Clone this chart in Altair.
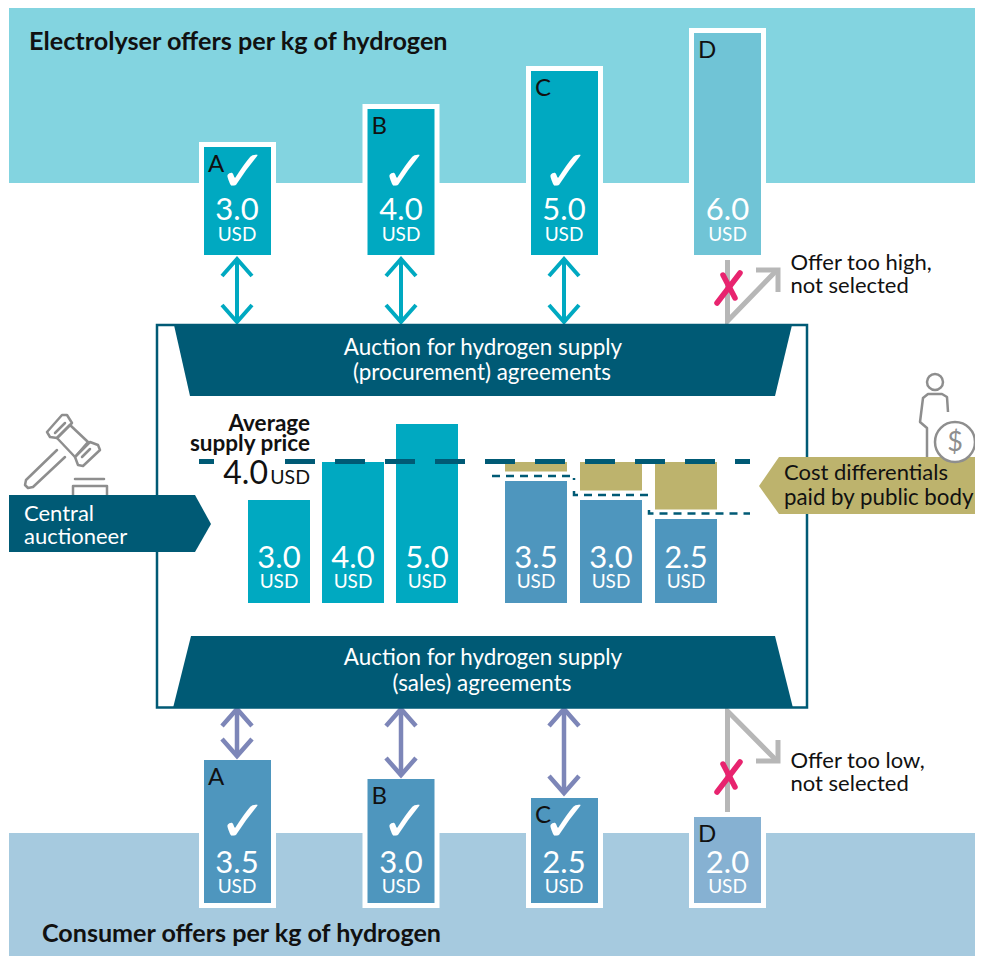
import altair as alt
import pandas as pd

# ---------- values ----------
SUPPLIERS = ["A", "B", "C", "D"]
SUPPLY_PRICES = [3.0, 4.0, 5.0, 6.0]
CONSUMER_PRICES = [3.5, 3.0, 2.5, 2.0]
SELECTED_SUPPLY = [3.0, 4.0, 5.0]
SELECTED_DEMAND = [3.5, 3.0, 2.5]
AVERAGE_PRICE = 4.0
GAP = 0.25
CHECK = "\u2713"

TOP_TITLE = "Electrolyser offers per kg of hydrogen"
BOTTOM_TITLE = "Consumer offers per kg of hydrogen"
SUPPLY_AUCTION = ["Auction for hydrogen supply", "(procurement) agreements"]
SALES_AUCTION = ["Auction for hydrogen supply", "(sales) agreements"]
AUCTIONEER = ["Central", "auctioneer"]
DIFFERENTIAL = ["Cost differentials", "paid by public body"]
HIGH_NOTE = ["Offer too high,", "not selected"]
LOW_NOTE = ["Offer too low,", "not selected"]
AVERAGE_LABEL = ["Average", "supply price"]

# ---------- layout ----------
W, H = 967, 948
FONT = "Lato"
TEAL, TEAL_PALE = "#00a9c1", "#70c4d6"
BLUE, BLUE_PALE = "#4e96be", "#86b1d2"
NAVY, GOLD = "#005a75", "#bdb36d"
VIOLET, GREY, ICON, PINK = "#7d86b8", "#b7b7b7", "#8e8e8e", "#e8246f"
INK = "#111111"

CARD_X = [204, 367.5, 531, 694]
CARD_W = 67
CARD_MID = [237, 401, 564, 727.5]
CHECK_MID = [243, 405, 566]
MID_SUPPLY_X = [248, 322, 396]
MID_DEMAND_X = [505, 580, 655]
MID_W = 62

XS = alt.Scale(domain=[8, 8 + W], range=[0, W], nice=False, zero=False)
YS = alt.Scale(domain=[8, 8 + H], range=[0, H], nice=False, zero=False)


def price_scale(zero_px, px_per_usd=38):
    return alt.Scale(domain=[(zero_px - 8) / px_per_usd, (zero_px - 8 - H) / px_per_usd],
                     range=[0, H], nice=False, zero=False)


TOP_S, MID_S, BOT_S = price_scale(261), price_scale(614), price_scale(893)


def X(f="x"):
    return alt.X(f"{f}:Q", scale=XS, axis=None)


def Y(f="y", s=YS):
    return alt.Y(f"{f}:Q", scale=s, axis=None)


def box(rows, color, **kw):
    df = pd.DataFrame(rows, columns=["x", "x2", "y", "y2"])
    return alt.Chart(df).mark_rect(color=color, **kw).encode(
        x=X(), x2="x2:Q", y=Y(), y2="y2:Q")


def price_bars(xs, w, tops, bottoms, scale, color, **kw):
    df = pd.DataFrame({"x": xs, "x2": [a + w for a in xs], "y": tops, "y2": bottoms})
    return alt.Chart(df).mark_rect(color=color, **kw).encode(
        x=X(), x2="x2:Q", y=Y("y", scale), y2="y2:Q")


def poly(name, rows, color):
    df = pd.DataFrame(rows, columns=["y", "x", "x2"])
    df["g"] = name
    return alt.Chart(df).mark_area(orient="horizontal", color=color, opacity=1).encode(
        y=Y(), x=X(), x2="x2:Q", detail="g:N")


def path(lines, color, width, dash=None, cap="butt", join="miter"):
    rows = []
    for g, pts in enumerate(lines):
        for o, (x, y) in enumerate(pts):
            rows.append({"x": x, "y": y, "g": g, "o": o})
    kw = {"strokeDash": dash} if dash else {}
    return alt.Chart(pd.DataFrame(rows)).mark_line(
        color=color, strokeWidth=width, strokeCap=cap, strokeJoin=join, **kw
    ).encode(x=X(), y=Y(), detail="g:N", order="o:Q")


def text(rows, size, color=INK, align="center", weight="normal", font=FONT):
    df = pd.DataFrame(rows, columns=["x", "y", "t"])
    return alt.Chart(df).mark_text(
        fontSize=size, color=color, align=align, baseline="alphabetic",
        fontWeight=weight, font=font
    ).encode(x=X(), y=Y(), text="t:N")


def price_letters(xs, prices, scale, names, dy):
    df = pd.DataFrame({"x": xs, "y": prices, "t": names})
    return alt.Chart(df).mark_text(
        fontSize=24, color=INK, align="left", baseline="alphabetic", font=FONT, dy=dy
    ).encode(x=X(), y=Y("y", scale), text="t:N")


def dot(x, y, size, fill, stroke, width):
    df = pd.DataFrame({"x": [x], "y": [y]})
    return alt.Chart(df).mark_point(
        shape="circle", size=size, fill=fill, stroke=stroke, strokeWidth=width, opacity=1, filled=False
    ).encode(x=X(), y=Y())


def double_arrow(x, top, bottom, wing=15, rise=17):
    return [
        [(x, top), (x, bottom)],
        [(x - wing, top + rise), (x, top), (x + wing, top + rise)],
        [(x - wing, bottom - rise), (x, bottom), (x + wing, bottom - rise)],
    ]


layers = []
# bands
layers += [box([(9, 8 + W, 8, 183)], "#83d4e0"), box([(9, 8 + W, 833, 8 + H)], "#a6cadf")]

# offer cards
top_base = (261 - 255) / 38
bot_base = (893 - 903) / 38
card_cols_top = [TEAL, TEAL, TEAL, TEAL_PALE]
card_cols_bot = [BLUE, BLUE, BLUE, BLUE_PALE]
layers.append(price_bars(CARD_X, CARD_W, SUPPLY_PRICES, [top_base] * 4, TOP_S, "#ffffff",
                         stroke="#ffffff", strokeWidth=10))
layers.append(price_bars(CARD_X, CARD_W, CONSUMER_PRICES, [bot_base] * 4, BOT_S, "#ffffff",
                         stroke="#ffffff", strokeWidth=10))
for i in range(4):
    layers.append(price_bars([CARD_X[i]], CARD_W, [SUPPLY_PRICES[i]], [top_base], TOP_S, card_cols_top[i]))
    layers.append(price_bars([CARD_X[i]], CARD_W, [CONSUMER_PRICES[i]], [bot_base], BOT_S, card_cols_bot[i]))

layers.append(price_letters([a + 4 for a in CARD_X], SUPPLY_PRICES, TOP_S, SUPPLIERS, 24.5))
layers.append(price_letters([a + 4 for a in CARD_X], CONSUMER_PRICES, BOT_S, SUPPLIERS, 25))

layers.append(text([(m, 219.5, f"{v:.1f}") for m, v in zip(CARD_MID, SUPPLY_PRICES)], 31, "#ffffff"))
layers.append(text([(m, 241, "USD") for m in CARD_MID], 19, "#ffffff"))
layers.append(text([(m, 873, f"{v:.1f}") for m, v in zip(CARD_MID, CONSUMER_PRICES)], 31, "#ffffff"))
layers.append(text([(m, 893, "USD") for m in CARD_MID], 19, "#ffffff"))
layers.append(text([(m, 191, CHECK) for m in CHECK_MID], 58, "#ffffff", weight="bold", font="DejaVu Sans"))
layers.append(text([(m, 841, CHECK) for m in CHECK_MID], 58, "#ffffff", weight="bold", font="DejaVu Sans"))

# titles
layers.append(text([(29, 50, TOP_TITLE)], 25.2, INK, "left", "bold"))
layers.append(text([(42, 942, BOTTOM_TITLE)], 25.1, INK, "left", "bold"))

# arrows
top_arrows = sum([double_arrow(m, 259, 322) for m in CARD_MID[:3]], [])
bot_ends = [756, 775, 793]
bot_arrows = sum([double_arrow(m, 709, e) for m, e in zip(CARD_MID[:3], bot_ends)], [])
layers.append(path(top_arrows, TEAL, 4))
layers.append(path(bot_arrows, VIOLET, 4.5))
layers.append(path([[(727.5, 260), (727.5, 321), (776, 271)],
                    [(756, 270), (778, 270), (778, 292)]], GREY, 5))
layers.append(path([[(727.5, 812), (727.5, 711), (776, 760)],
                    [(756, 761), (778, 761), (778, 740)]], GREY, 5))
layers.append(path([[(717, 303), (740, 273)], [(723, 275), (735, 298)],
                    [(717, 792), (740, 762)], [(723, 764), (735, 787)]], PINK, 5.5, cap="round"))
layers.append(text([(790.5, 270, HIGH_NOTE[0]), (790.5, 293, HIGH_NOTE[1]),
                    (790.5, 767.5, LOW_NOTE[0]), (790.5, 790.5, LOW_NOTE[1])], 22, INK, "left"))

# auction frame
layers.append(box([(157, 807, 325, 707.5)], "#ffffff", stroke=NAVY, strokeWidth=2.5))
layers.append(poly("a", [(325, 174, 792), (396, 190, 775)], NAVY))
layers.append(poly("b", [(636, 191, 775), (708, 173, 793)], NAVY))
layers.append(text([(483, 355, SUPPLY_AUCTION[0]), (482, 380, SUPPLY_AUCTION[1]),
                    (483, 665, SALES_AUCTION[0]), (482, 691, SALES_AUCTION[1])], 22.4, "#ffffff"))

# central bars
base = (614 - 603) / 38
layers.append(price_bars(MID_SUPPLY_X, MID_W, SELECTED_SUPPLY, [base] * 3, MID_S, TEAL))
layers.append(price_bars(MID_DEMAND_X, MID_W, SELECTED_DEMAND, [base] * 3, MID_S, BLUE))
layers.append(price_bars(MID_DEMAND_X, MID_W, [AVERAGE_PRICE] * 3, [v + GAP for v in SELECTED_DEMAND], MID_S, GOLD))
mids = [a + MID_W / 2 for a in MID_SUPPLY_X + MID_DEMAND_X]
vals = SELECTED_SUPPLY + SELECTED_DEMAND
layers.append(text([(m, 568, f"{v:.1f}") for m, v in zip(mids, vals)], 31, "#ffffff"))
layers.append(text([(m, 588, "USD") for m in mids], 19, "#ffffff"))

# average + differential lines
layers.append(path([[(199, 461.5), (214, 461.5)], [(285, 461.5), (750, 461.5)]], NAVY, 5, dash=[30, 20]))
layers.append(path([[(492, 476), (574, 476), (574, 480)],
                    [(574, 491), (574, 495), (649, 495), (649, 499)],
                    [(649, 510), (649, 513.5), (750, 513.5)]], NAVY, 2.5, dash=[8, 6]))
layers.append(text([(310, 431, AVERAGE_LABEL[0]), (310, 451, AVERAGE_LABEL[1])], 22.5, INK, "right", "bold"))
layers.append(text([(268, 484, f"{AVERAGE_PRICE:.1f}")], 32, INK, "right"))
layers.append(text([(310, 484, "USD")], 19.5, INK, "right"))

# gavel
layers.append(path([
    [(57, 450), (26, 480), (25, 485), (28, 488), (33, 487), (65, 457)],
    [(57, 438), (70, 425), (88, 442), (75, 457), (57, 438)],
    [(47, 432), (62, 415), (67, 415), (72, 423), (57, 438), (50, 437), (47, 432)],
    [(75, 457), (90, 442), (98, 445), (100, 450), (83, 466), (78, 465), (75, 457)],
    [(55, 433), (65, 423)], [(82, 457), (90, 449)],
    [(75, 479), (104, 479)],
    [(73, 496), (73, 486), (107, 486), (107, 496)],
], ICON, 2.5, join="round", cap="round"))

# person
layers.append(path([[(948, 412), (947, 397), (942, 394), (928, 394), (923, 398),
                     (920, 422), (927, 428), (927, 458)]], ICON, 2.5, join="round"))
layers.append(dot(935, 382, 256, "none", ICON, 2.5))

# tags
layers.append(poly("c", [(495, 9, 195), (524, 9, 211), (552, 9, 195)], NAVY))
layers.append(poly("d", [(457, 779, 8 + W), (486, 759, 8 + W), (514, 779, 8 + W)], GOLD))
layers.append(text([(24, 521, AUCTIONEER[0]), (24, 544, AUCTIONEER[1])], 22, "#ffffff", "left"))
layers.append(dot(955, 442, 1600, "#ffffff", ICON, 2.5))
layers.append(text([(955, 451, "$")], 27, ICON))
layers.append(text([(784, 480, DIFFERENTIAL[0])], 22, INK, "left"))
layers.append(text([(784, 505, DIFFERENTIAL[1])], 22.3, INK, "left"))

chart = alt.layer(*layers).resolve_scale(y="independent").properties(
    width=W, height=H, padding=0, autosize=alt.AutoSizeParams(type="none"),
    background="#ffffff",
).configure_view(stroke=None)

chart.save("out.html", embed_options={"renderer": "svg", "actions": False})
